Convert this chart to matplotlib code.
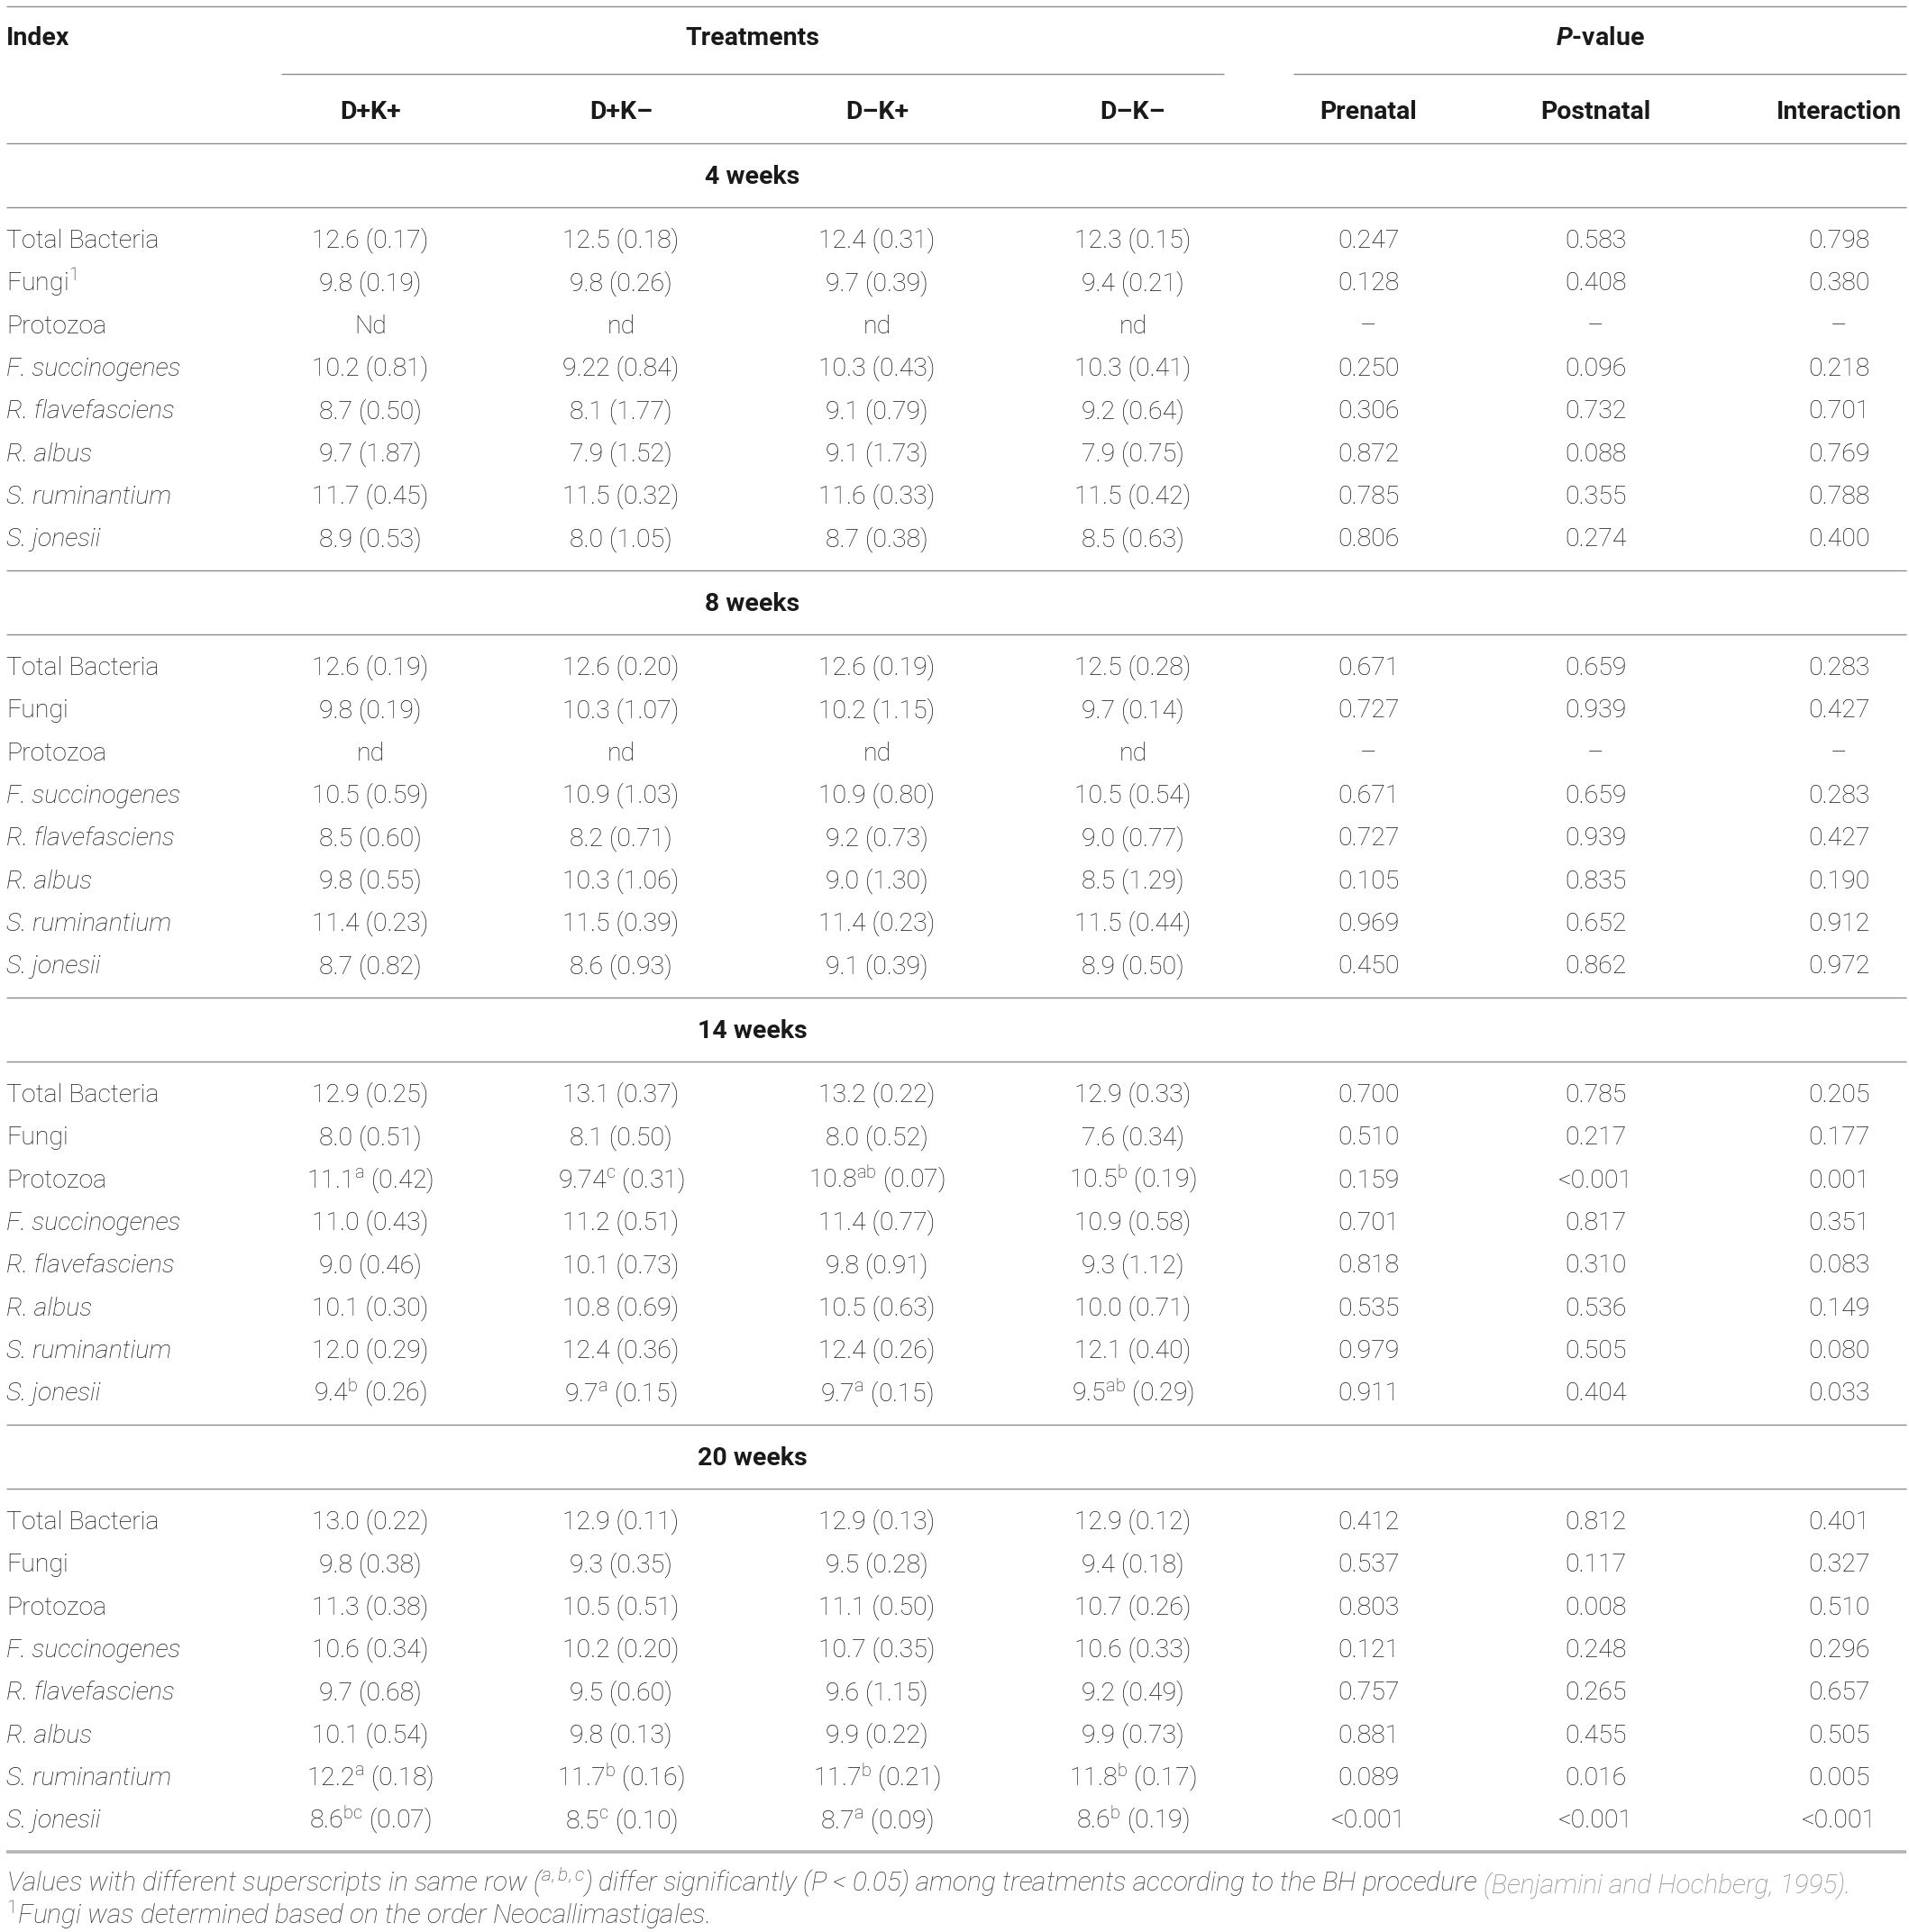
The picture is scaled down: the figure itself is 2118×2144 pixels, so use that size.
import re
import matplotlib.pyplot as plt

plt.rcParams['font.family'] = ['Roboto', 'DejaVu Sans']
plt.rcParams['mathtext.fontset'] = 'custom'
plt.rcParams['mathtext.rm'] = 'Roboto:light'
plt.rcParams['mathtext.it'] = 'Roboto:italic:light'
plt.rcParams['mathtext.bf'] = 'Roboto:bold'
plt.rcParams['mathtext.bfit'] = 'Roboto:italic:bold'

# ---- table content ----
treatments = ["D+K+", "D+K–", "D–K+", "D–K–"]
p_terms = ["Prenatal", "Postnatal", "Interaction"]
weeks = ["4 weeks", "8 weeks", "14 weeks", "20 weeks"]

index_names = ["Total Bacteria", "Fungi", "Protozoa", "F. succinogenes",
               "R. flavefasciens", "R. albus", "S. ruminantium", "S. jonesii"]
italic_rows = [False, False, False, True, True, True, True, True]

# "^x" marks a superscript letter
wk4_trt = [
    ["12.6 (0.17)", "12.5 (0.18)", "12.4 (0.31)", "12.3 (0.15)"],
    ["9.8 (0.19)", "9.8 (0.26)", "9.7 (0.39)", "9.4 (0.21)"],
    ["Nd", "nd", "nd", "nd"],
    ["10.2 (0.81)", "9.22 (0.84)", "10.3 (0.43)", "10.3 (0.41)"],
    ["8.7 (0.50)", "8.1 (1.77)", "9.1 (0.79)", "9.2 (0.64)"],
    ["9.7 (1.87)", "7.9 (1.52)", "9.1 (1.73)", "7.9 (0.75)"],
    ["11.7 (0.45)", "11.5 (0.32)", "11.6 (0.33)", "11.5 (0.42)"],
    ["8.9 (0.53)", "8.0 (1.05)", "8.7 (0.38)", "8.5 (0.63)"],
]
wk4_p = [
    ["0.247", "0.583", "0.798"],
    ["0.128", "0.408", "0.380"],
    ["–", "–", "–"],
    ["0.250", "0.096", "0.218"],
    ["0.306", "0.732", "0.701"],
    ["0.872", "0.088", "0.769"],
    ["0.785", "0.355", "0.788"],
    ["0.806", "0.274", "0.400"],
]

wk8_trt = [
    ["12.6 (0.19)", "12.6 (0.20)", "12.6 (0.19)", "12.5 (0.28)"],
    ["9.8 (0.19)", "10.3 (1.07)", "10.2 (1.15)", "9.7 (0.14)"],
    ["nd", "nd", "nd", "nd"],
    ["10.5 (0.59)", "10.9 (1.03)", "10.9 (0.80)", "10.5 (0.54)"],
    ["8.5 (0.60)", "8.2 (0.71)", "9.2 (0.73)", "9.0 (0.77)"],
    ["9.8 (0.55)", "10.3 (1.06)", "9.0 (1.30)", "8.5 (1.29)"],
    ["11.4 (0.23)", "11.5 (0.39)", "11.4 (0.23)", "11.5 (0.44)"],
    ["8.7 (0.82)", "8.6 (0.93)", "9.1 (0.39)", "8.9 (0.50)"],
]
wk8_p = [
    ["0.671", "0.659", "0.283"],
    ["0.727", "0.939", "0.427"],
    ["–", "–", "–"],
    ["0.671", "0.659", "0.283"],
    ["0.727", "0.939", "0.427"],
    ["0.105", "0.835", "0.190"],
    ["0.969", "0.652", "0.912"],
    ["0.450", "0.862", "0.972"],
]

wk14_trt = [
    ["12.9 (0.25)", "13.1 (0.37)", "13.2 (0.22)", "12.9 (0.33)"],
    ["8.0 (0.51)", "8.1 (0.50)", "8.0 (0.52)", "7.6 (0.34)"],
    ["11.1^a (0.42)", "9.74^c (0.31)", "10.8^ab (0.07)", "10.5^b (0.19)"],
    ["11.0 (0.43)", "11.2 (0.51)", "11.4 (0.77)", "10.9 (0.58)"],
    ["9.0 (0.46)", "10.1 (0.73)", "9.8 (0.91)", "9.3 (1.12)"],
    ["10.1 (0.30)", "10.8 (0.69)", "10.5 (0.63)", "10.0 (0.71)"],
    ["12.0 (0.29)", "12.4 (0.36)", "12.4 (0.26)", "12.1 (0.40)"],
    ["9.4^b (0.26)", "9.7^a (0.15)", "9.7^a (0.15)", "9.5^ab (0.29)"],
]
wk14_p = [
    ["0.700", "0.785", "0.205"],
    ["0.510", "0.217", "0.177"],
    ["0.159", "<0.001", "0.001"],
    ["0.701", "0.817", "0.351"],
    ["0.818", "0.310", "0.083"],
    ["0.535", "0.536", "0.149"],
    ["0.979", "0.505", "0.080"],
    ["0.911", "0.404", "0.033"],
]

wk20_trt = [
    ["13.0 (0.22)", "12.9 (0.11)", "12.9 (0.13)", "12.9 (0.12)"],
    ["9.8 (0.38)", "9.3 (0.35)", "9.5 (0.28)", "9.4 (0.18)"],
    ["11.3 (0.38)", "10.5 (0.51)", "11.1 (0.50)", "10.7 (0.26)"],
    ["10.6 (0.34)", "10.2 (0.20)", "10.7 (0.35)", "10.6 (0.33)"],
    ["9.7 (0.68)", "9.5 (0.60)", "9.6 (1.15)", "9.2 (0.49)"],
    ["10.1 (0.54)", "9.8 (0.13)", "9.9 (0.22)", "9.9 (0.73)"],
    ["12.2^a (0.18)", "11.7^b (0.16)", "11.7^b (0.21)", "11.8^b (0.17)"],
    ["8.6^bc (0.07)", "8.5^c (0.10)", "8.7^a (0.09)", "8.6^b (0.19)"],
]
wk20_p = [
    ["0.412", "0.812", "0.401"],
    ["0.537", "0.117", "0.327"],
    ["0.803", "0.008", "0.510"],
    ["0.121", "0.248", "0.296"],
    ["0.757", "0.265", "0.657"],
    ["0.881", "0.455", "0.505"],
    ["0.089", "0.016", "0.005"],
    ["<0.001", "<0.001", "<0.001"],
]

blocks = [(wk4_trt, wk4_p), (wk8_trt, wk8_p), (wk14_trt, wk14_p), (wk20_trt, wk20_p)]

note1 = "Values with different superscripts in same row ($^{\\mathit{a,b,c}}$) differ significantly ($\\mathit{P}$ < 0.05) among treatments according to the BH procedure"
note1_ref = "(Benjamini and Hochberg, 1995)."
note2 = "$^{\\mathit{1}}$Fungi was determined based on the order Neocallimastigales."

# ---- layout (pixels) ----
W, H = 2118, 2144
x_index = 7
x_right = 2115
x_trt = [411, 689, 973, 1257]
x_p = [1518, 1770, 2040]
trt_span = (312, 1358)
p_span = (1435, 2115)
row_h = 47.33
fs = 20.5
fs_note = 21.5
ink = "#1a1a1a"
rule = "#8c8c8c"


def sup(s):
    return re.sub(r"\^(\w+)", r"$^{\\mathrm{\1}}$", s)


fig = plt.figure(figsize=(W / 100, H / 100), dpi=100)
ax = fig.add_axes([0, 0, 1, 1])
ax.set_xlim(0, W)
ax.set_ylim(H, 0)
ax.axis("off")

bl = 9  # baseline offset from visual centre


def txt(x, y, s, ha="center", **kw):
    kw.setdefault("fontweight", "light")
    kw.setdefault("color", ink)
    kw.setdefault("fontsize", fs)
    return ax.text(x, y + bl, s, ha=ha, va="baseline", **kw)


# header
ax.hlines(7, x_index, x_right, color=rule, lw=1.0)
txt(x_index, 41, "Index", ha="left", fontweight="bold")
txt(sum(trt_span) / 2, 41, "Treatments", fontweight="bold")
txt(sum(p_span) / 2, 41, "$\\mathbfit{P}$-value", fontweight="bold")
ax.hlines(82, *trt_span, color=rule, lw=1.0)
ax.hlines(82, *p_span, color=rule, lw=1.0)
for x, name in zip(x_trt, treatments):
    txt(x, 123, name, fontweight="bold")
for x, name in zip(x_p, p_terms):
    txt(x, 123, name, fontweight="bold")
ax.hlines(159, x_index, x_right, color=rule, lw=1.0)

y = 159
for b, (week, (trt, pv)) in enumerate(zip(weeks, blocks)):
    txt(sum(trt_span) / 2, y + 35.5, week, fontweight="bold")
    ax.hlines(y + 71, x_index, x_right, color=rule, lw=1.0)
    y0 = y + 71 + 36
    for i, name in enumerate(index_names):
        yy = y0 + i * row_h
        label = name + ("$^{\\mathrm{1}}$" if (b == 0 and name == "Fungi") else "")
        txt(x_index, yy, label, ha="left",
            style="italic" if italic_rows[i] else "normal")
        for x, v in zip(x_trt, trt[i]):
            txt(x, yy, sup(v))
        for x, v in zip(x_p, pv[i]):
            txt(x, yy, v)
    y = y + 71 + 403
    if b < len(weeks) - 1:
        ax.hlines(y, x_index, x_right, color=rule, lw=1.0)

ax.hlines(y, x_index, x_right, color="#b3b3b3", lw=2.6)

t1 = txt(x_index, y + 35, note1, ha="left", style="italic", color="#333333",
         fontsize=fs_note)
ax.annotate(note1_ref, xy=(1, 0), xycoords=t1, xytext=(5, 0), textcoords="offset points",
            ha="left", va="bottom", fontsize=fs_note, style="italic", fontweight="light",
            color="#8a8a8a")
txt(x_index, y + 71, note2, ha="left", style="italic", color="#333333", fontsize=fs_note)

fig.savefig("out.png", dpi=100)
